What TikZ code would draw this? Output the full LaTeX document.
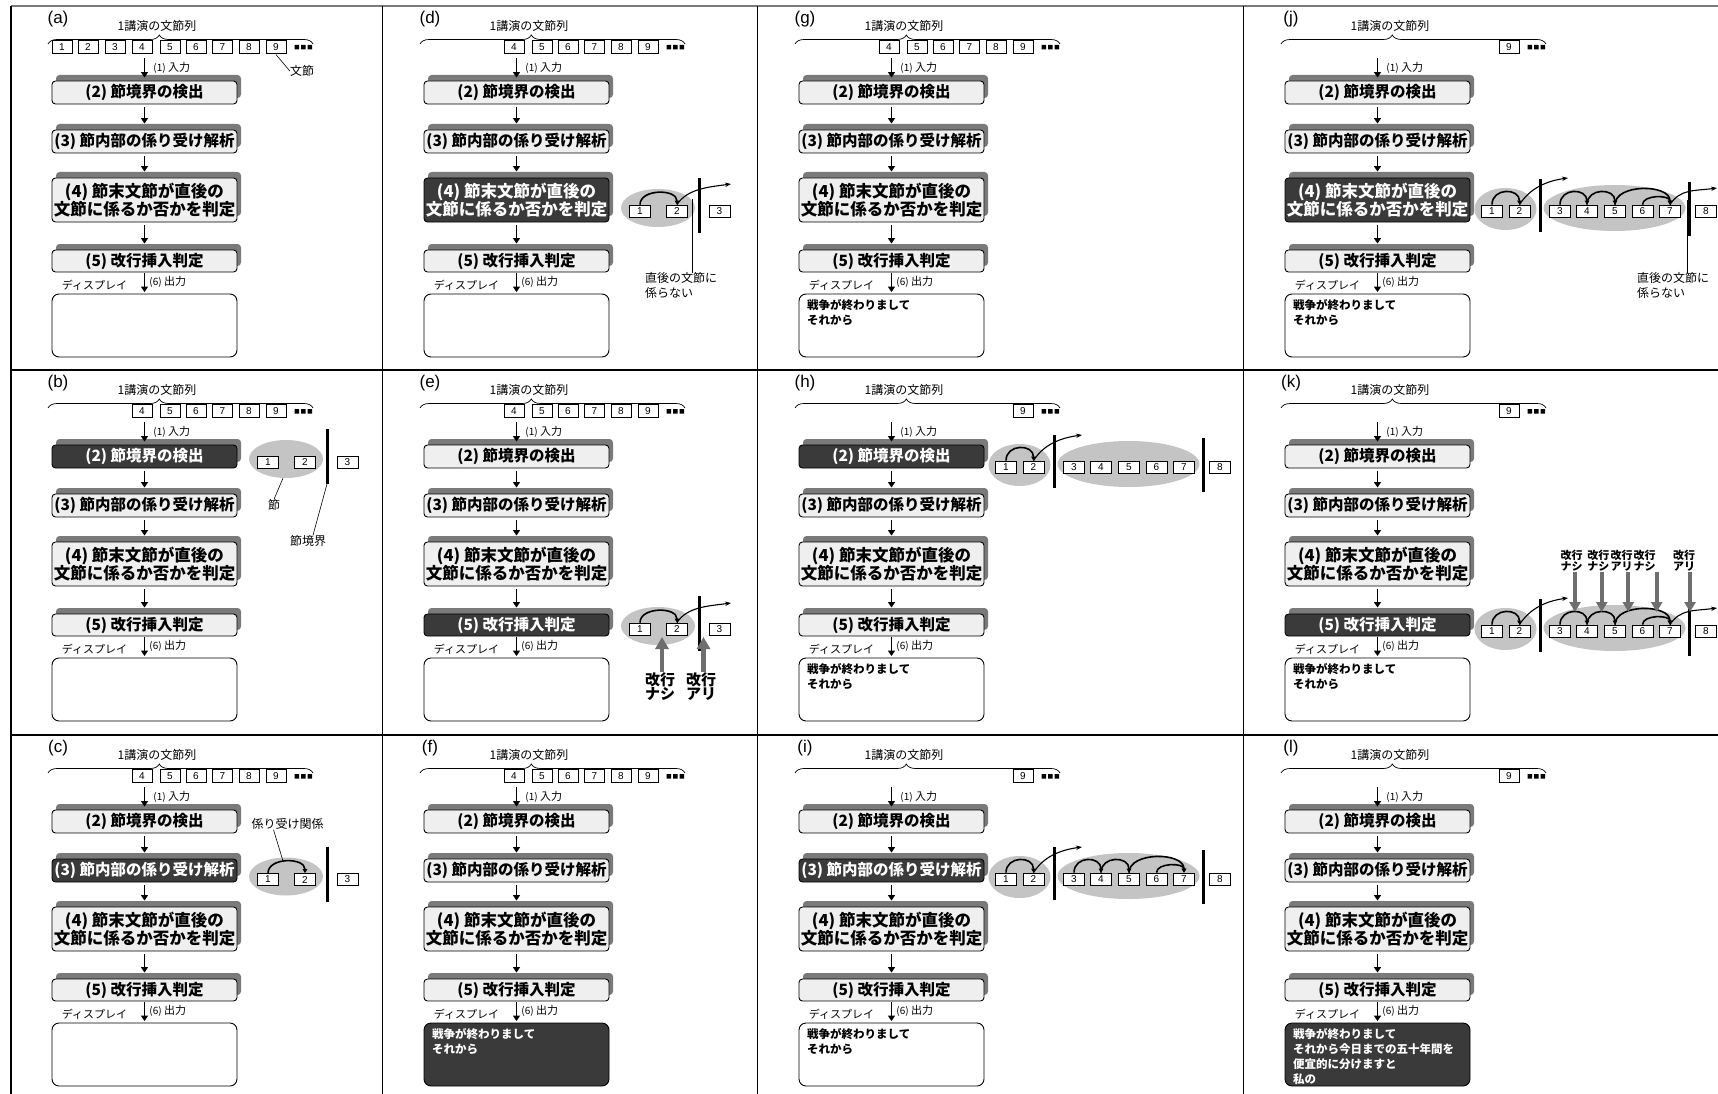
\documentclass[tikz,border=0pt]{standalone}
\usepackage{fontspec}
\setmainfont{Liberation Sans}
\newfontfamily\jp{Noto Sans CJK JP}
\usetikzlibrary{shadows,decorations.pathreplacing,arrows.meta,shapes.geometric}
\definecolor{boxgray}{HTML}{EFEFEF}
\definecolor{shadowgray}{HTML}{7A7A7A}
\definecolor{darkfill}{HTML}{3A3A3A}
\definecolor{clausegray}{HTML}{C4C4C4}
\definecolor{arrowgray}{HTML}{6E6E6E}
\definecolor{framegray}{HTML}{7A7A7A}
\tikzset{
 stepbox/.style={draw=black, line width=0.9pt, fill=boxgray, rounded corners=3.5pt, minimum width=185pt, inner sep=0pt, align=center, text=black, font=\jp\bfseries\fontsize{15.5}{18}\selectfont, general shadow={fill=shadowgray, sharp corners, shadow xshift=4pt, shadow yshift=6pt}},
 darkbox/.style={stepbox, fill=darkfill, text=white},
 b2/.style={stepbox}, b3/.style={stepbox}, b4/.style={stepbox}, b5/.style={stepbox},
 dispbox/.style={draw=black, line width=0.9pt, fill=white, rounded corners=7pt, minimum width=185pt, minimum height=63pt, inner sep=0pt},
 dispdark/.style={dispbox, fill=darkfill},
 dp/.style={dispbox},
 disptext/.style={anchor=north west, inner sep=0pt, align=left, text=black, font=\jp\bfseries\fontsize{11.5}{15}\selectfont},
 dtxt/.style={disptext},
 plabel/.style={inner sep=0pt, font=\fontsize{17}{17}\selectfont},
 ttl/.style={inner sep=0pt, font=\jp\fontsize{12}{12}\selectfont},
 small/.style={inner sep=0pt, font=\jp\fontsize{11}{11}\selectfont},
 note/.style={inner sep=0pt, align=left, font=\jp\fontsize{12}{14.5}\selectfont},
 wbox/.style={draw=black, line width=0.7pt, fill=white, minimum width=20pt, minimum height=12.5pt, inner sep=0pt, font=\fontsize{10}{10}\selectfont},
 nbox/.style={wbox, minimum width=21pt, minimum height=12pt},
 clause/.style={ellipse, fill=clausegray, draw=none, inner sep=0pt},
 bar/.style={line width=3pt, black},
 flow/.style={line width=1.8pt, -{Triangle[length=5.5pt,width=7pt]}},
 dep/.style={line width=1.6pt, -{Triangle[length=4pt,width=4.5pt]}},
 outa/.style={line width=1.1pt, -{Stealth[length=6pt,width=4.5pt]}},
 thinln/.style={line width=0.6pt},
 grayup/.style={draw=arrowgray, line width=4.5pt, -{Triangle[length=12pt,width=13pt]}},
 graydn/.style={draw=arrowgray, line width=4pt, -{Triangle[length=10pt,width=11pt]}},
 kaigyo/.style={inner sep=0pt, align=center, font=\jp\bfseries\fontsize{15}{14.5}\selectfont},
 kaigyos/.style={inner sep=0pt, align=center, font=\jp\bfseries\fontsize{11}{11.5}\selectfont},
}
\newcommand\panel[7]{%
\begin{scope}[shift={(#2,#3)},#6]
 \node[plabel] (#1-lab) at (48,13) {(#4)};
 \node[ttl] (#1-ttl) at (147,20) {1講演の文節列};
 \draw[line width=0.7pt, decorate, decoration={brace, amplitude=9pt, aspect=0.42}] (38,38) -- (303,38);
 \foreach \i in {#5} {%
   \pgfmathsetmacro\wx{{52,78,105,132,160,186,212.5,239,266}[\i-1]}%
   \node[wbox] (#1-w\i) at (\wx,41) {\i};}
 \fill (284.5,39) rectangle (289,43.5) (291,39) rectangle (295.5,43.5) (297.5,39) rectangle (302,43.5);
 \coordinate (#1-in) at (134.5,52);
 \node[b2, minimum height=23pt] (#1-s2) at (134.5,86.5) {(2) 節境界の検出};
 \node[b3, minimum height=23pt] (#1-s3) at (134.5,135.5) {(3) 節内部の係り受け解析};
 \node[b4, minimum height=44pt, font=\jp\bfseries\fontsize{16.5}{18.5}\selectfont] (#1-s4) at (134.5,194) {(4) 節末文節が直後の\\文節に係るか否かを判定};
 \node[b5, minimum height=22pt] (#1-s5) at (134.5,255) {(5) 改行挿入判定};
 \node[dp] (#1-dp) at (134.5,319.5) {};
 \node[dtxt] (#1-txt) at (50,293.5) {#7};
 \node[small] (#1-dl) at (84.5,279) {ディスプレイ};
 \draw[flow, shorten >=3pt] (#1-in) -- (#1-s2) node[pos=0.45, right=8pt, small] {{\fontsize{10}{10}\selectfont(1)} 入力};
 \draw[flow, shorten <=3pt, shorten >=6pt] (#1-s2) -- (#1-s3);
 \draw[flow, shorten <=3pt, shorten >=6pt] (#1-s3) -- (#1-s4);
 \draw[flow, shorten <=3pt, shorten >=6pt] (#1-s4) -- (#1-s5);
 \draw[flow, shorten <=1pt, shorten >=1.5pt] (#1-s5) -- (#1-dp) node[pos=0.45, right=4pt, small] {{\fontsize{10}{10}\selectfont(6)} 出力};
\end{scope}}
\newcommand\sideS[2]{%
 \node[clause, minimum width=74pt, minimum height=38pt] (#1-c1) at (276,#2-3) {};
 \node[nbox] (#1-n1) at (258,#2) {1};
 \node[nbox] (#1-n2) at (295,#2) {2};
 \node[nbox] (#1-n3) at (337.5,#2) {3};
 \draw[bar] (317,#2-33) -- (317,#2+22);}
\newcommand\sideL[2]{%
 \node[clause, minimum width=62pt, minimum height=42pt] (#1-c1) at (262.5,#2-2) {};
 \node[clause, minimum width=142pt, minimum height=46pt] (#1-c2) at (371.5,#2-3) {};
 \foreach \j/\xx in {1/249,2/276.5,3/317,4/344,5/372,6/399.5,7/427,8/463} {\node[nbox] (#1-n\j) at (\xx,#2) {\j};}
 \draw[bar] (297.5,#2-32) -- (297.5,#2+21);
 \draw[bar] (446,#2-29) -- (446,#2+25);}
\newcommand\arcd[3][17pt]{\draw[dep] (#2.north) .. controls ([yshift=#1]#2.north) and ([yshift=#1]#3.north) .. (#3.north);}
\newcommand\outd[2]{\draw[outa] (#1.north) .. controls ([xshift=10pt,yshift=16pt]#1.north) and ([xshift=-22pt,yshift=-3pt]#2) .. (#2);}
\newcommand\clausearcs[1]{\arcd{#1-n3}{#1-n4}\arcd{#1-n4}{#1-n5}\arcd[21pt]{#1-n5}{#1-n7}\arcd[10pt]{#1-n6}{#1-n7}}
\begin{document}
\begin{tikzpicture}[x=1pt,y=-1pt]
\useasboundingbox (0,0) rectangle (1718,1094);
\fill[white] (0,0) rectangle (1718,1094);
\draw[framegray, line width=1.5pt] (11,6) -- (1718,6);
\draw[line width=1.2pt] (11,6) -- (11,1094);
\draw[line width=1.2pt] (382.5,6) -- (382.5,1094);
\draw[line width=1.2pt] (757.5,6) -- (757.5,1094);
\draw[line width=1.2pt] (1243.5,6) -- (1243.5,1094);
\draw[line width=1.2pt] (11,370) -- (1718,370);
\draw[line width=1.2pt] (11,735) -- (1718,735);

\panel{a}{10}{6}{a}{1,...,9}{}{}
\panel{b}{10}{370}{b}{4,...,9}{b2/.style={darkbox}}{}
\panel{c}{10}{735}{c}{4,...,9}{b3/.style={darkbox}}{}
\panel{d}{382}{6}{d}{4,...,9}{b4/.style={darkbox}}{}
\panel{e}{382}{370}{e}{4,...,9}{b5/.style={darkbox}}{}
\panel{f}{382}{735}{f}{4,...,9}{dp/.style={dispdark},dtxt/.style={disptext,text=white}}{戦争が終わりまして\\それから}
\panel{g}{757}{6}{g}{4,...,9}{}{戦争が終わりまして\\それから}
\panel{h}{757}{370}{h}{9}{b2/.style={darkbox}}{戦争が終わりまして\\それから}
\panel{i}{757}{735}{i}{9}{b3/.style={darkbox}}{戦争が終わりまして\\それから}
\panel{j}{1243}{6}{j}{9}{b4/.style={darkbox}}{戦争が終わりまして\\それから}
\panel{k}{1243}{370}{k}{9}{b5/.style={darkbox}}{戦争が終わりまして\\それから}
\panel{l}{1243}{735}{l}{9}{dp/.style={dispdark},dtxt/.style={disptext,text=white}}{戦争が終わりまして\\それから今日までの五十年間を\\便宜的に分けますと\\私の}

% (a)
\begin{scope}[shift={(10,6)}]
 \node[note] (a-wl) at (292,65) {文節};
 \draw[thinln] ([yshift=-1pt]a-w9.south) -- (a-wl.west);
\end{scope}
% (b)
\begin{scope}[shift={(10,370)}]
 \sideS{b}{92}
 \node[note] (b-ls) at (264,135) {節};
 \node[note] (b-lb) at (298,171) {節境界};
 \coordinate (b-bb) at (317,114);
 \draw[thinln] (b-ls.north) -- ([xshift=-3pt]b-c1.south);
 \draw[thinln] ([xshift=5pt]b-lb.north) -- (b-bb);
\end{scope}
% (c)
\begin{scope}[shift={(10,735)}]
 \sideS{c}{144.5}
 \arcd[16pt]{c-n1}{c-n2}
 \node[note] (c-lk) at (277.5,89) {係り受け関係};
 \coordinate (c-ap) at (273,126);
 \draw[thinln] ([xshift=-14pt]c-lk.south) -- (c-ap);
\end{scope}
% (d)
\begin{scope}[shift={(382,6)}]
 \sideS{d}{205}
 \arcd[16pt]{d-n1}{d-n2}
 \coordinate (d-o) at (349,178);
 \outd{d-n2}{d-o}
 \node[note, anchor=west] (d-nl) at (263,279.5) {直後の文節に\\係らない};
 \coordinate (d-np) at (310,193);
 \draw[thinln] (d-np |- d-nl.north) -- (d-np);
\end{scope}
% (e)
\begin{scope}[shift={(382,370)}]
 \sideS{e}{259}
 \arcd[16pt]{e-n1}{e-n2}
 \coordinate (e-o) at (349,233);
 \outd{e-n2}{e-o}
 \node[kaigyo] (e-l1) at (278,316.5) {改行\\ナシ};
 \node[kaigyo] (e-l2) at (319,316.5) {改行\\アリ};
 \coordinate (e-t1) at (280,267);
 \coordinate (e-t2) at (321.5,267);
 \draw[grayup] (e-t1 |- e-l1.north) -- (e-t1);
 \draw[grayup] (e-t2 |- e-l2.north) -- (e-t2);
\end{scope}
% (h)
\begin{scope}[shift={(757,370)}]
 \sideL{h}{97}
 \arcd{h-n1}{h-n2}
 \coordinate (h-o) at (325,65);
 \outd{h-n2}{h-o}
\end{scope}
% (i)
\begin{scope}[shift={(757,735)}]
 \sideL{i}{144}
 \arcd{i-n1}{i-n2}
 \coordinate (i-o) at (325,112);
 \outd{i-n2}{i-o}
 \clausearcs{i}
\end{scope}
% (j)
\begin{scope}[shift={(1243,6)}]
 \sideL{j}{205}
 \arcd{j-n1}{j-n2}
 \coordinate (j-o) at (325,172);
 \outd{j-n2}{j-o}
 \clausearcs{j}
 \coordinate (j-o2) at (474,182);
 \outd{j-n7}{j-o2}
 \node[note, anchor=west] (j-nl) at (394,279.5) {直後の文節に\\係らない};
 \coordinate (j-np) at (444.5,194);
 \draw[thinln] (j-np |- j-nl.north) -- (j-np);
\end{scope}
% (k)
\begin{scope}[shift={(1243,370)}]
 \sideL{k}{261}
 \arcd{k-n1}{k-n2}
 \coordinate (k-o) at (325,228);
 \outd{k-n2}{k-o}
 \clausearcs{k}
 \coordinate (k-o2) at (474,238);
 \outd{k-n7}{k-o2}
 \node[kaigyos] (k-l1) at (328.7,190.5) {改行\\ナシ};
 \node[kaigyos] (k-l2) at (355.3,190.5) {改行\\ナシ};
 \node[kaigyos] (k-l3) at (378.5,190.5) {改行\\アリ};
 \node[kaigyos] (k-l4) at (401.5,190.5) {改行\\ナシ};
 \node[kaigyos] (k-l5) at (441,190.5) {改行\\アリ};
 \coordinate (k-t1) at (332,242);
 \coordinate (k-t2) at (358.7,242);
 \coordinate (k-t3) at (385.3,242);
 \coordinate (k-t4) at (413.7,242);
 \coordinate (k-t5) at (447,242);
 \draw[graydn] (k-t1 |- k-l1.south) -- (k-t1);
 \draw[graydn] (k-t2 |- k-l2.south) -- (k-t2);
 \draw[graydn] (k-t3 |- k-l3.south) -- (k-t3);
 \draw[graydn] (k-t4 |- k-l4.south) -- (k-t4);
 \draw[graydn] (k-t5 |- k-l5.south) -- (k-t5);
\end{scope}
\end{tikzpicture}
\end{document}
